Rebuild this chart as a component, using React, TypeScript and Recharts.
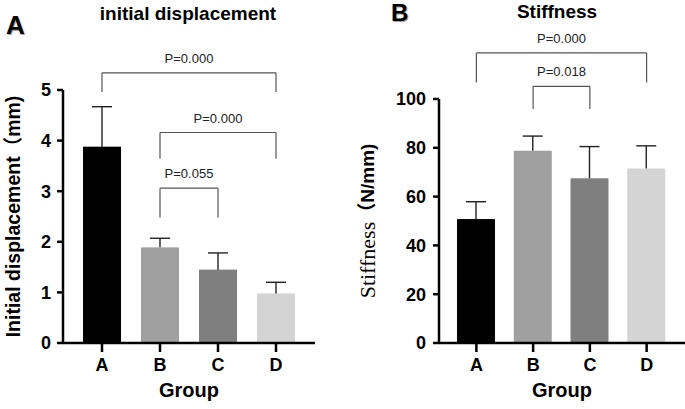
import { BarChart, Bar, XAxis, YAxis, ReferenceLine } from 'recharts'

const GROUPS = ['A', 'B', 'C', 'D']
const BAR_COLORS = ['#000000', '#a0a0a0', '#7f7f7f', '#d4d4d4']

// initial displacement (mm): mean and SD
const DISP_MEAN = [3.88, 1.89, 1.45, 0.98]
const DISP_SD = [0.79, 0.18, 0.33, 0.22]
const DISP_TICKS = [0, 1, 2, 3, 4, 5]

// stiffness (N/mm): mean and SD
const STIFF_MEAN = [50.8, 78.8, 67.5, 71.5]
const STIFF_SD = [7.1, 6.0, 13.0, 9.3]
const STIFF_TICKS = [0, 20, 40, 60, 80, 100]

// significance brackets, in data units
const DISP_BRACKETS = [
  { from: 'A', to: 'D', y: 5.34, foot: 4.96, label: 'P=0.000' },
  { from: 'B', to: 'D', y: 4.16, foot: 3.64, label: 'P=0.000' },
  { from: 'B', to: 'C', y: 3.06, foot: 2.48, label: 'P=0.055' },
]
const STIFF_BRACKETS = [
  { from: 'A', to: 'D', y: 118.9, foot: 106.8, label: 'P=0.000' },
  { from: 'B', to: 'C', y: 105.2, foot: 95.9, label: 'P=0.018' },
]

const SANS = '"Liberation Sans", Arial, "Noto Sans CJK SC", sans-serif'
const SERIF = '"Liberation Serif", "Times New Roman", serif'

const dispData = GROUPS.map((g, i) => ({ group: g, mean: DISP_MEAN[i], sd: DISP_SD[i] }))
const stiffData = GROUPS.map((g, i) => ({ group: g, mean: STIFF_MEAN[i], sd: STIFF_SD[i] }))

function MeanSdBar(props: any) {
  const { x, y, width, height, index, payload } = props
  const ppu = height / payload.mean
  const top = y - payload.sd * ppu
  const cx = x + width / 2
  return (
    <g>
      <rect x={x} y={y} width={width} height={height} fill={BAR_COLORS[index]} />
      <line x1={cx} y1={y} x2={cx} y2={top} stroke="#222" strokeWidth={1.4} />
      <line x1={cx - 10} y1={top} x2={cx + 10} y2={top} stroke="#222" strokeWidth={1.4} />
    </g>
  )
}

function renderBrackets(brackets: typeof DISP_BRACKETS) {
  const out: any[] = []
  brackets.forEach((b, i) => {
    out.push(
      <ReferenceLine
        key={`h${i}`}
        segment={[{ x: b.from, y: b.y }, { x: b.to, y: b.y }]}
        stroke="#555"
        strokeWidth={1.2}
        ifOverflow="visible"
        label={{ value: b.label, position: 'top', offset: 10, fill: '#222', fontSize: 13, fontFamily: SANS }}
      />,
      <ReferenceLine
        key={`l${i}`}
        segment={[{ x: b.from, y: b.y }, { x: b.from, y: b.foot }]}
        stroke="#555"
        strokeWidth={1.2}
        ifOverflow="visible"
      />,
      <ReferenceLine
        key={`r${i}`}
        segment={[{ x: b.to, y: b.y }, { x: b.to, y: b.foot }]}
        stroke="#555"
        strokeWidth={1.2}
        ifOverflow="visible"
      />,
    )
  })
  return out
}

const tickStyle = { fontSize: 18, fontWeight: 'bold', fill: '#000', fontFamily: SANS }
const axisStroke = { stroke: '#000', strokeWidth: 2.5 }

function DispYLabel({ viewBox }: any) {
  const cy = viewBox.y + viewBox.height / 2
  return (
    <text
      x={13}
      y={cy}
      transform={`rotate(-90, 13, ${cy})`}
      textAnchor="middle"
      dominantBaseline="central"
      fontFamily={SANS}
      fontWeight="bold"
      fontSize={19.5}
      fill="#000"
    >
      Initial displacement（mm)
    </text>
  )
}

function StiffYLabel({ viewBox }: any) {
  const cy = viewBox.y + viewBox.height / 2
  return (
    <text
      x={27}
      y={cy}
      transform={`rotate(-90, 27, ${cy})`}
      textAnchor="middle"
      dominantBaseline="central"
      fill="#000"
    >
      <tspan fontFamily={SERIF} fontSize={22}>Stiffness</tspan>
      <tspan fontFamily={SANS} fontWeight="bold" fontSize={19}>（N/mm)</tspan>
    </text>
  )
}

export default function App() {
  return (
    <div style={{ position: 'absolute', left: 0, top: 0, width: 685, height: 409, background: '#fff', fontFamily: SANS }}>
      <div style={{ position: 'absolute', left: 6, top: 10, fontSize: 26, fontWeight: 'bold', lineHeight: 1.2, textShadow: '1px 1px 1px #999' }}>A</div>
      <div style={{ position: 'absolute', left: 0, width: 376, top: 4, textAlign: 'center', fontSize: 19, fontWeight: 'bold', lineHeight: 1 }}>
        initial displacement
      </div>
      <div style={{ position: 'absolute', left: 391, top: 1, fontSize: 24, fontWeight: 'bold', lineHeight: 1, textShadow: '1px 1px 1px #999' }}>B</div>
      <div style={{ position: 'absolute', left: 457, width: 200, top: 2, textAlign: 'center', fontSize: 19, fontWeight: 'bold', lineHeight: 1 }}>
        Stiffness
      </div>

      <div style={{ position: 'absolute', left: 0, top: 0 }}>
        <BarChart width={340} height={409} data={dispData} margin={{ top: 90, right: 25, bottom: 0, left: 0 }}>
          <XAxis
            dataKey="group"
            height={66}
            padding={{ left: 10, right: 10 }}
            tick={tickStyle}
            tickSize={9}
            tickMargin={6}
            axisLine={axisStroke}
            tickLine={axisStroke}
            label={{ value: 'Group', position: 'insideBottom', offset: 12, fontSize: 20, fontWeight: 'bold', fill: '#000', fontFamily: SANS }}
          />
          <YAxis
            width={63}
            domain={[0, 5]}
            ticks={DISP_TICKS}
            interval={0}
            tick={tickStyle}
            tickSize={6}
            tickMargin={6}
            axisLine={axisStroke}
            tickLine={axisStroke}
            label={<DispYLabel />}
          />
          <Bar dataKey="mean" barSize={38} isAnimationActive={false} shape={(p: any) => <MeanSdBar {...p} />} />
          {renderBrackets(DISP_BRACKETS)}
        </BarChart>
      </div>

      <div style={{ position: 'absolute', left: 340, top: 0 }}>
        <BarChart width={345} height={409} data={stiffData} margin={{ top: 99, right: 0, bottom: 0, left: 0 }}>
          <XAxis
            dataKey="group"
            height={66}
            padding={{ left: 9, right: 10 }}
            tick={tickStyle}
            tickSize={9}
            tickMargin={6}
            axisLine={axisStroke}
            tickLine={axisStroke}
            label={{ value: 'Group', position: 'insideBottom', offset: 12, fontSize: 20, fontWeight: 'bold', fill: '#000', fontFamily: SANS }}
          />
          <YAxis
            width={99}
            domain={[0, 100]}
            ticks={STIFF_TICKS}
            interval={0}
            tick={tickStyle}
            tickSize={6}
            tickMargin={7}
            axisLine={axisStroke}
            tickLine={axisStroke}
            label={<StiffYLabel />}
          />
          <Bar dataKey="mean" barSize={38} isAnimationActive={false} shape={(p: any) => <MeanSdBar {...p} />} />
          {renderBrackets(STIFF_BRACKETS)}
        </BarChart>
      </div>
    </div>
  )
}
